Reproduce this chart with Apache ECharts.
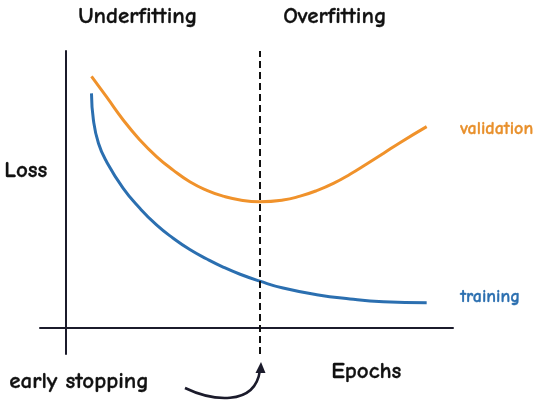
<!DOCTYPE html>
<html>
<head>
<meta charset="utf-8">
<script src="https://cdn.jsdelivr.net/npm/echarts@6/dist/echarts.min.js"></script>
<style>
  html, body { margin: 0; padding: 0; background: #fff; }
  #chart { width: 550px; height: 406px; }
</style>
</head>
<body>
<div id="chart"></div>
<script>
// curves (epoch, loss)
var validation = [
  [6.6, 0.908], [10.5, 0.834], [14.8, 0.751], [19.1, 0.679], [23.4, 0.619],
  [27.7, 0.570], [32.0, 0.528], [36.4, 0.497], [40.6, 0.476], [45.0, 0.462],
  [50.1, 0.456], [56.1, 0.462], [60.5, 0.476], [64.8, 0.496], [69.1, 0.522],
  [73.4, 0.555], [77.7, 0.592], [82.0, 0.630], [86.3, 0.669], [93.2, 0.727]
];
var training = [
  [6.6, 0.847], [7.1, 0.751], [8.4, 0.667], [10.5, 0.600], [14.8, 0.504],
  [19.1, 0.432], [23.4, 0.372], [27.7, 0.324], [32.0, 0.283], [36.4, 0.249],
  [40.6, 0.220], [45.0, 0.194], [50.1, 0.169], [56.1, 0.144], [64.8, 0.120],
  [73.4, 0.105], [82.0, 0.095], [93.2, 0.091]
];
var earlyStop = 50;

var font = "'Comic Sans MS', 'Comic Neue', Lato, sans-serif";
var ink = '#1b1b2b';

function label(text, x, y, size, color) {
  return {
    type: 'text', left: x, top: y,
    style: { text: text, font: 'bold ' + size + 'px ' + font, fill: color, stroke: color, lineWidth: 0.3 }
  };
}

var chart = echarts.init(document.getElementById('chart'));
chart.setOption({
  animation: false,
  grid: { left: 40, right: 97, top: 51, bottom: 52 },
  xAxis: {
    type: 'value', min: -6.7, max: 100,
    axisLine: { onZero: true, lineStyle: { color: ink, width: 2 } },
    axisTick: { show: false }, axisLabel: { show: false }, splitLine: { show: false }
  },
  yAxis: {
    type: 'value', min: -0.094, max: 1,
    axisLine: { show: true, onZero: true, lineStyle: { color: ink, width: 2 } },
    axisTick: { show: false }, axisLabel: { show: false }, splitLine: { show: false }
  },
  series: [
    {
      name: 'validation', type: 'line', data: validation, smooth: 0.5,
      showSymbol: false, lineStyle: { color: '#f0922b', width: 3 },
      markLine: {
        silent: true, symbol: 'none', label: { show: false },
        lineStyle: { color: '#111', width: 2, type: [7, 4] },
        data: [{ xAxis: earlyStop }]
      }
    },
    {
      name: 'training', type: 'line', data: training, smooth: 0.5,
      showSymbol: false, lineStyle: { color: '#2b6fb0', width: 3 }
    }
  ],
  graphic: [
    label('Underfitting', 78, 5, 23, '#111'),
    label('Overfitting', 283, 5, 23, '#111'),
    label('Loss', 4, 159, 23, '#111'),
    label('validation', 460, 120, 18, '#e8902c'),
    label('training', 460, 288, 18, '#2b6fb0'),
    label('Epochs', 331, 360, 23, '#111'),
    label('early stopping', 9, 370, 23, '#111'),
    {
      type: 'bezierCurve',
      shape: { x1: 185, y1: 388, cpx1: 210, cpy1: 400, cpx2: 255, cpy2: 408, x2: 260, y2: 370 },
      style: { stroke: ink, lineWidth: 2.5, fill: null }
    },
    {
      type: 'polygon',
      shape: { points: [[261, 362], [255.5, 373], [265.5, 373]] },
      style: { fill: ink }
    }
  ]
});
</script>
</body>
</html>
